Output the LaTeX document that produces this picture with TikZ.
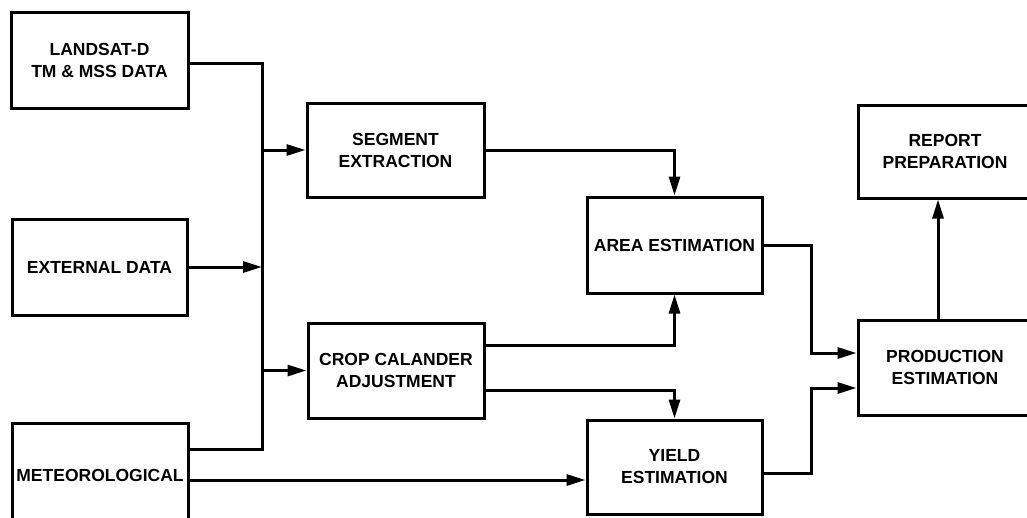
\documentclass[tikz,border=0pt]{standalone}
\usepackage{fontspec}
\setmainfont{Liberation Sans}
\usetikzlibrary{arrows.meta}
\begin{document}
\begin{tikzpicture}[x=1pt,y=-1pt,
  box/.style={draw, line width=3pt, rectangle, inner sep=0pt, align=center,
    font=\bfseries\fontsize{17.5}{22}\selectfont},
  wire/.style={line width=3pt, line join=miter},
  arr/.style={wire, -{Triangle[length=19pt,width=11pt]}}]
\useasboundingbox (0,0) rectangle (1027,517);
\clip (0,0) rectangle (1027,517);
\fill[white] (0,0) rectangle (1027,517);
% boxes
\node[box, minimum width=177pt, minimum height=96pt] (landsat) at (99.5,60) {LANDSAT-D\\TM \& MSS DATA};
\node[box, minimum width=175pt, minimum height=96pt] (external) at (99.5,267) {EXTERNAL DATA};
\node[box, minimum width=176pt, minimum height=104pt] (met) at (100,475) {METEOROLOGICAL};
\node[box, minimum width=177pt, minimum height=94pt] (segment) at (395.5,150) {SEGMENT\\EXTRACTION};
\node[box, minimum width=176pt, minimum height=95pt] (crop) at (396,370.5) {CROP CALANDER\\ADJUSTMENT};
\node[box, minimum width=175pt, minimum height=96pt] (area) at (674.5,245) {AREA ESTIMATION};
\node[box, minimum width=175pt, minimum height=94pt] (yield) at (674.5,467) {YIELD\\ESTIMATION};
\node[box, minimum width=174pt, minimum height=93pt] (report) at (945,151.5) {REPORT\\PREPARATION};
\node[box, minimum width=174pt, minimum height=95pt] (prod) at (945,367.5) {PRODUCTION\\ESTIMATION};
% helper coordinates
\coordinate (bt) at (262,63);
\coordinate (bb) at (262,449);
\coordinate (ymet) at (0,480);
\coordinate (ycA) at (0,345);
\coordinate (ycY) at (0,390);
\coordinate (xp) at (811,0);
\coordinate (yp1) at (0,353);
\coordinate (yp2) at (0,388);
\coordinate (yy) at (0,473);
\coordinate (xr) at (938,0);
% connectors
\draw[wire] (landsat.east |- bt) -- (bt) -- (bb) -- (met.east |- bb);
\draw[arr] (bt |- segment.west) -- (segment.west);
\draw[arr] (external.east) -- (external.east -| bt);
\draw[arr] (bt |- crop.west) -- (crop.west);
\draw[arr] (met.east |- ymet) -- (yield.west |- ymet);
\draw[arr] (segment.east) -| (area.north);
\draw[arr] (crop.east |- ycA) -| (area.south);
\draw[arr] (crop.east |- ycY) -| (yield.north);
\draw[arr] (area.east) -- (area.east -| xp) -- (xp |- yp1) -- (prod.west |- yp1);
\draw[arr] (yield.east |- yy) -- (xp |- yy) -- (xp |- yp2) -- (prod.west |- yp2);
\draw[arr] (prod.north -| xr) -- (report.south -| xr);
\end{tikzpicture}
\end{document}
